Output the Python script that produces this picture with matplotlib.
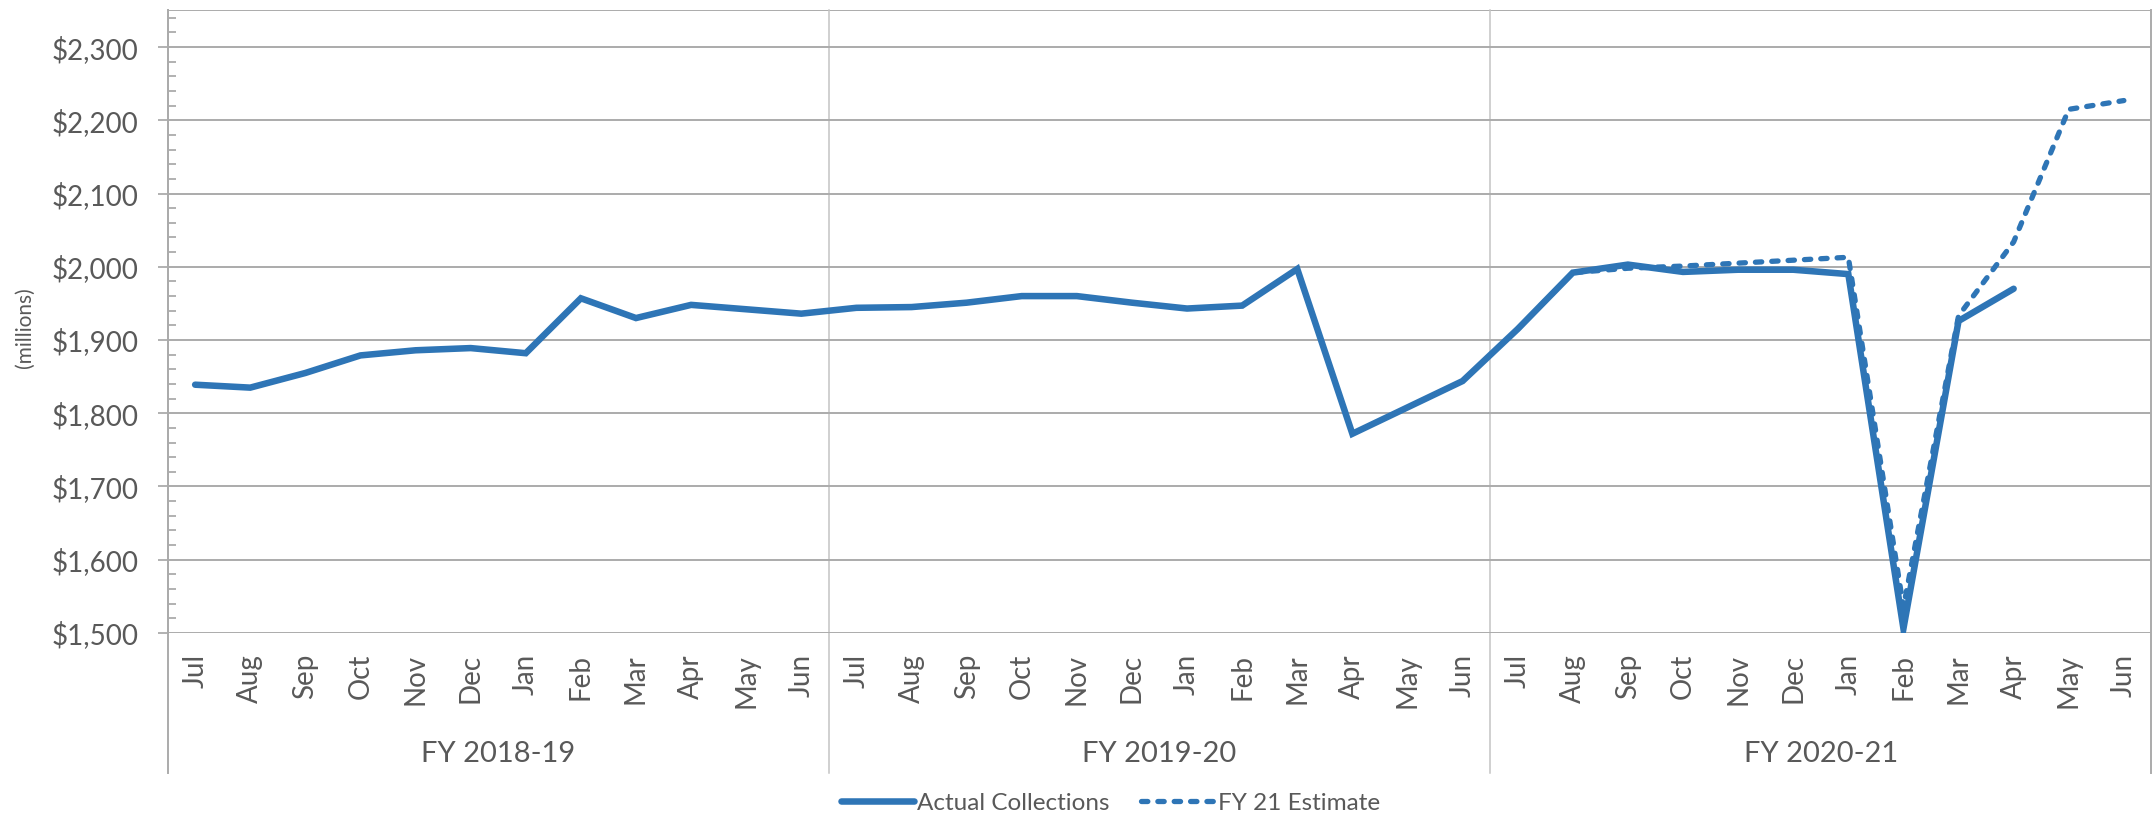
import numpy as np
import matplotlib.pyplot as plt
from matplotlib.ticker import MultipleLocator, FuncFormatter

plt.rcParams["font.family"] = ["Lato", "DejaVu Sans"]

months = ["Jul", "Aug", "Sep", "Oct", "Nov", "Dec", "Jan", "Feb", "Mar", "Apr", "May", "Jun"]
fiscal_years = ["FY 2018-19", "FY 2019-20", "FY 2020-21"]

actual_fy19 = [1839, 1835, 1855, 1879, 1886, 1889, 1882, 1957, 1930, 1948, 1942, 1936]
actual_fy20 = [1944, 1945, 1951, 1960, 1960, 1951, 1943, 1947, 1997, 1772, 1808, 1844]
actual_fy21 = [1915, 1992, 2003, 1993, 1996, 1996, 1990, 1506, 1926, 1970, None, None]
estimate_fy21 = [1915, 1992, 1998, 2001, 2005, 2009, 2013, 1535, 1933, 2034, 2215, 2227]

actual = [np.nan if v is None else v for v in actual_fy19 + actual_fy20 + actual_fy21]
estimate = [np.nan] * 24 + estimate_fy21
x = np.arange(len(actual))

blue = "#2E75B6"
grid_c = "#ABABAB"
text_c = "#595959"

fig = plt.figure(figsize=(21.54, 8.18), dpi=100)
ax = fig.add_axes([0.0778, 0.2262, 0.9210, 0.7610])

ax.plot(x, actual, color=blue, lw=4.7, solid_capstyle="round", solid_joinstyle="miter",
        label="Actual Collections", zorder=3)
ax.plot(x, estimate, color=blue, lw=3.8, ls=(0, (1.2, 1.9)), dash_capstyle="round",
        label="FY 21 Estimate", zorder=4)

ax.set_xlim(-0.5, len(x) - 0.5)
ax.set_ylim(1500, 2350)
ax.set_yticks([1500, 1600, 1700, 1800, 1900, 2000, 2100, 2200, 2300])
ax.yaxis.set_minor_locator(MultipleLocator(20))
ax.yaxis.set_major_formatter(FuncFormatter(lambda v, p: "${:,.0f}".format(v)))
ax.grid(axis="y", color=grid_c, lw=1.4, zorder=1)
ax.tick_params(axis="y", which="major", direction="out", length=7, width=1.3,
               color=grid_c, labelsize=20, labelcolor=text_c, pad=14)
ax.tick_params(axis="y", which="minor", direction="in", length=6, width=1.3, color=grid_c)
ax.set_xticks([])

for s in ["top", "right", "bottom"]:
    ax.spines[s].set_visible(False)
ax.spines["left"].set_color(grid_c)
ax.spines["left"].set_linewidth(1.4)
ax.axhline(2350, color=grid_c, lw=1.4, zorder=1)

# fiscal year separators, running down through the category labels
h_px = 0.7610 * 818
ext = -140 / h_px
for b in [-0.5, 11.5, 23.5, 35.5]:
    edge = b in (-0.5, 35.5)
    ax.plot([b, b], [1, ext], transform=ax.get_xaxis_transform(),
            color=grid_c if edge else "#C4C4C4", lw=1.4 if edge else 1.1,
            clip_on=False, zorder=1)

# month labels
for i in x:
    ax.text(i, -21 / h_px, months[i % 12], transform=ax.get_xaxis_transform(),
            rotation=90, ha="center", va="top", fontsize=20, color=text_c)

# fiscal year labels
for k, fy in enumerate(fiscal_years):
    ax.text(k * 12 + 5.5, -121 / h_px, fy, transform=ax.get_xaxis_transform(),
            ha="center", va="center", fontsize=21, color=text_c)

fig.text(0.0116, 0.6, "(millions)", rotation=90, ha="center", va="center",
         fontsize=15, color=text_c)

leg = fig.legend(loc="center", bbox_to_anchor=(0.5155, 0.018), ncol=2, frameon=False,
                 prop={"size": 17.5}, handlelength=3.0, columnspacing=1.3,
                 handletextpad=0.15)
for t in leg.get_texts():
    t.set_color(text_c)

fig.savefig("out.png", dpi=100)
